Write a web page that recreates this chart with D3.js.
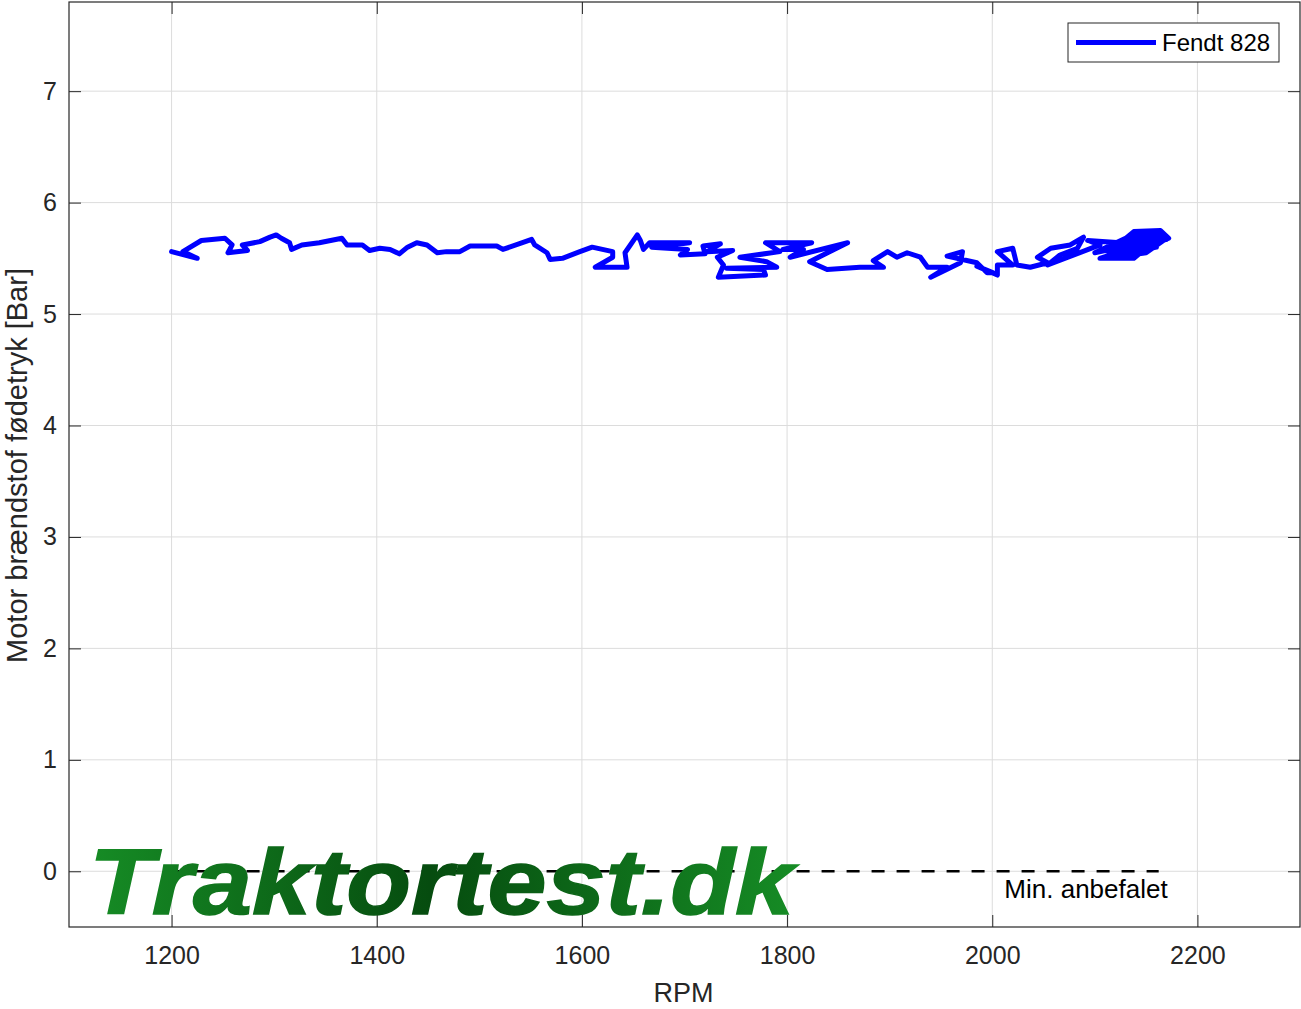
<!DOCTYPE html>
<meta charset="utf-8">
<script src="https://d3js.org/d3.v7.min.js"></script>
<style>
  body { margin: 0; background: #fff; }
  text { font-family: "Liberation Sans", Arial, sans-serif; }
</style>
<div id="chart"></div>
<script>

// fuel feed pressure trace (RPM vs bar)
var rpm = [1200,1225,1211,1229,1252,1259,1255,1274,1269,1286,1296,1302,1307,1315,1317,1327,1344,1366,1371,1386,
  1393,1403,1413,1422,1430,1439,1449,1459,1468,1481,1491,1517,1523,1542,1551,1554,1566,1569,1581,1598,
  1610,1630,1630,1613,1644,1642,1654,1657,1660,1666,1705,1668,1703,1696,1720,1718,1735,1722,1747,1732,
  1738,1733,1779,1777,1741,1790,1780,1754,1793,1779,1824,1796,1816,1803,1859,1822,1839,1871,1894,1884,
  1898,1907,1917,1930,1937,1956,1940,1969,1971,1956,1985,1995,2001,1985,2005,2005,2020,2005,2020,2024,
  2037,2054,2044,2057,2076,2089,2083,2066,2054,2105,2093,2125,2138,2164,2172,2151,2138,2105,2125,2135,
  2154,2144,2164,2130,2159,2170,2150,2128,2160,2135,2165,2120,2145,2110,2140,2168,2125,2150,2100,2130,
  2160,2115,2155,2170];
var pressure = [5.56,5.50,5.56,5.66,5.68,5.62,5.55,5.57,5.62,5.65,5.69,5.71,5.68,5.64,5.58,5.62,5.64,5.68,5.62,5.62,
  5.57,5.59,5.58,5.54,5.60,5.64,5.62,5.55,5.56,5.56,5.61,5.61,5.58,5.64,5.67,5.62,5.55,5.49,5.50,5.56,
  5.60,5.56,5.51,5.42,5.42,5.55,5.71,5.66,5.58,5.64,5.64,5.60,5.58,5.53,5.54,5.61,5.63,5.56,5.57,5.51,
  5.44,5.33,5.35,5.40,5.41,5.42,5.47,5.51,5.56,5.64,5.64,5.58,5.58,5.51,5.64,5.47,5.40,5.42,5.42,5.48,
  5.56,5.51,5.55,5.51,5.42,5.42,5.33,5.46,5.56,5.52,5.46,5.37,5.37,5.43,5.35,5.44,5.44,5.56,5.59,5.44,
  5.42,5.46,5.51,5.59,5.62,5.69,5.59,5.53,5.44,5.62,5.66,5.64,5.74,5.75,5.68,5.60,5.50,5.50,5.56,5.67,
  5.71,5.58,5.67,5.53,5.62,5.68,5.55,5.52,5.72,5.60,5.66,5.54,5.73,5.57,5.52,5.70,5.62,5.65,5.55,5.68,
  5.60,5.50,5.74,5.67];

var xTicks = [1200, 1400, 1600, 1800, 2000, 2200];
var yTicks = [0, 1, 2, 3, 4, 5, 6, 7];
var seriesName = "Fendt 828";
var minLabel = "Min. anbefalet";
var minValue = 0;

var margin = {top: 2, right: 1, bottom: 82, left: 69},
    width = 1301 - margin.left - margin.right,
    height = 1009 - margin.top - margin.bottom;

var svg = d3.select("#chart")
  .append("svg")
    .attr("width", 1301)
    .attr("height", 1009)
  .append("g")
    .attr("transform", "translate(" + margin.left + "," + margin.top + ")");

var x = d3.scaleLinear().domain([1100, 2300]).range([0, width]);
var y = d3.scaleLinear().domain([-0.5, 7.8]).range([height, 0]);

// grid
svg.append("g").selectAll("line").data(xTicks).enter().append("line")
  .attr("x1", d => x(d)).attr("x2", d => x(d))
  .attr("y1", 0).attr("y2", height)
  .attr("stroke", "#dcdcdc").attr("stroke-width", 1);
svg.append("g").selectAll("line").data(yTicks).enter().append("line")
  .attr("y1", d => y(d)).attr("y2", d => y(d))
  .attr("x1", 0).attr("x2", width)
  .attr("stroke", "#dcdcdc").attr("stroke-width", 1);

// axes, ticks inward on all four sides
function styleAxis(g) {
  g.select(".domain").remove();
  g.selectAll(".tick line").attr("stroke", "#262626");
  g.selectAll(".tick text").attr("fill", "#262626").style("font-size", "25px")
    .style("font-family", "'Liberation Sans', Arial, sans-serif");
}
svg.append("g").attr("transform", "translate(0," + height + ")")
  .call(d3.axisBottom(x).tickValues(xTicks).tickSizeInner(-12).tickPadding(19).tickFormat(d3.format("d")))
  .call(styleAxis);
svg.append("g")
  .call(d3.axisTop(x).tickValues(xTicks).tickSizeInner(-12).tickFormat(""))
  .call(styleAxis);
svg.append("g")
  .call(d3.axisLeft(y).tickValues(yTicks).tickSizeInner(-12).tickPadding(12).tickFormat(d3.format("d")))
  .call(styleAxis);
svg.append("g").attr("transform", "translate(" + width + ",0)")
  .call(d3.axisRight(y).tickValues(yTicks).tickSizeInner(-12).tickFormat(""))
  .call(styleAxis);

svg.append("rect")
  .attr("x", 0).attr("y", 0).attr("width", width).attr("height", height)
  .attr("fill", "none").attr("stroke", "#262626").attr("stroke-width", 1.2);

// axis labels
svg.append("text")
  .attr("x", width / 2 - 1).attr("y", height + 75)
  .attr("text-anchor", "middle")
  .attr("fill", "#262626")
  .style("font-size", "27px")
  .text("RPM");
svg.append("text")
  .attr("transform", "translate(-42," + (height / 2 + 1) + ")rotate(-90)")
  .attr("text-anchor", "middle")
  .attr("fill", "#262626")
  .style("font-size", "29px")
  .text("Motor brændstof fødetryk [Bar]");

// watermark
var defs = svg.append("defs");
var grad = defs.append("linearGradient").attr("id", "wm")
  .attr("x1", "0%").attr("x2", "100%").attr("y1", "0%").attr("y2", "0%");
grad.append("stop").attr("offset", "0%").attr("stop-color", "#168c25");
grad.append("stop").attr("offset", "48%").attr("stop-color", "#064c0f");
grad.append("stop").attr("offset", "100%").attr("stop-color", "#168c25");

// min recommended line
svg.append("line")
  .attr("x1", x(d3.min(rpm))).attr("x2", x(d3.max(rpm)) - 10)
  .attr("y1", y(minValue)).attr("y2", y(minValue))
  .attr("stroke", "#000").attr("stroke-width", 2.5)
  .attr("stroke-dasharray", "13,12");

svg.append("text")
  .attr("x", 20).attr("y", 912)
  .attr("textLength", 705).attr("lengthAdjust", "spacingAndGlyphs")
  .attr("fill", "url(#wm)")
  .attr("stroke", "url(#wm)").attr("stroke-width", 1.5)
  .style("font-size", "92px")
  .style("font-weight", "bold")
  .style("font-style", "italic")
  .text("Traktortest.dk");

svg.append("text")
  .attr("x", x(d3.max(rpm)) - 1).attr("y", y(minValue) + 27)
  .attr("text-anchor", "end")
  .attr("fill", "#000")
  .style("font-size", "26px")
  .text(minLabel);

// data line
var line = d3.line().x((d, i) => x(rpm[i])).y((d, i) => y(pressure[i]));
svg.append("path")
  .datum(pressure)
  .attr("d", line)
  .attr("fill", "none")
  .attr("stroke", "#0000ff")
  .attr("stroke-width", 5)
  .attr("stroke-linejoin", "round")
  .attr("stroke-linecap", "round");

// legend
var lg = svg.append("g").attr("transform", "translate(" + (1068 - margin.left) + "," + (23 - margin.top) + ")");
lg.append("rect").attr("width", 211).attr("height", 39)
  .attr("fill", "#fff").attr("stroke", "#262626").attr("stroke-width", 1);
lg.append("line").attr("x1", 8).attr("x2", 88).attr("y1", 19.5).attr("y2", 19.5)
  .attr("stroke", "#0000ff").attr("stroke-width", 5);
lg.append("text").attr("x", 94).attr("y", 28)
  .attr("fill", "#000").style("font-size", "24px")
  .text(seriesName);

</script>
